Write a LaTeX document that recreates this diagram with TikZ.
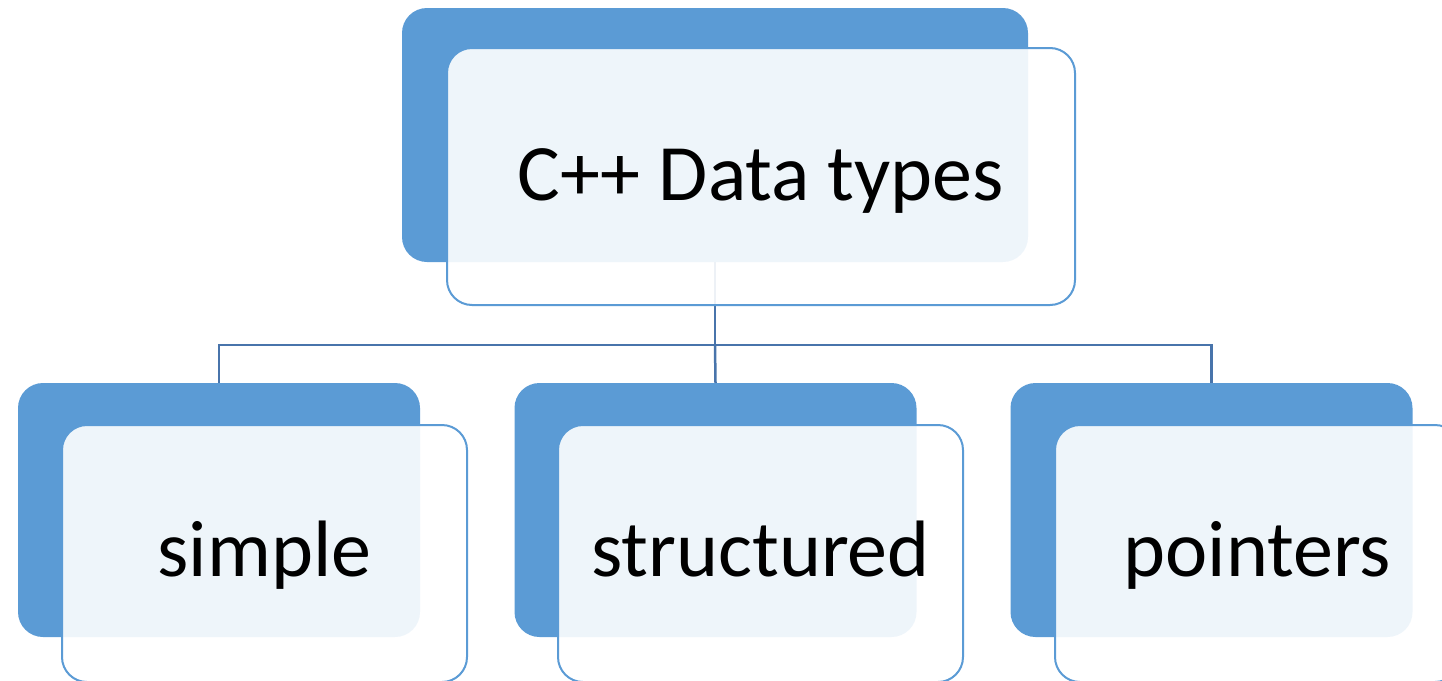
\documentclass[tikz,border=0pt]{standalone}
\usepackage{fontspec}
\setmainfont{Carlito}
\definecolor{accent}{HTML}{5B9BD5}
\definecolor{linkblue}{HTML}{4874AB}
\begin{document}
\begin{tikzpicture}[x=1pt,y=-1pt,
  backbox/.style={rectangle, rounded corners=25pt, fill=accent, draw=none,
    inner sep=0pt, minimum width=#1, minimum height=254pt},
  backbox/.default=402pt,
  frontbox/.style={rectangle, rounded corners=25pt, fill=white, fill opacity=0.9,
    draw=accent, draw opacity=1, line width=2pt,
    inner sep=0pt, minimum width=#1, minimum height=257pt},
  frontbox/.default=405pt,
  lbl/.style={anchor=base, inner sep=0pt, font=\fontsize{80}{92}\selectfont, text=black},
  link/.style={draw=linkblue, line width=2.5pt}]
\useasboundingbox (0,0) rectangle (1442,680);

% back panels
\node[backbox=626pt] (topback) at (715,135) {};
\node[backbox] (lback) at (219,510) {};
\node[backbox] (mback) at (715.5,510) {};
\node[backbox] (rback) at (1211.5,510) {};

% tree connectors
\coordinate (bus) at (0,345);
\draw[link] (topback.south) -- (topback.south |- bus);
\draw[link] (topback.south |- bus) -| (lback.north);
\draw[link] (topback.south |- bus) -| (rback.north);
\draw[link] (topback.south |- bus) -- (mback.north);

% front panels
\node[frontbox=628pt] (topfront) at (761,176.5) {};
\node[frontbox] (lfront) at (264.5,553.5) {};
\node[frontbox] (mfront) at (760.5,553.5) {};
\node[frontbox] (rfront) at (1257.5,553.5) {};

% labels
\node[lbl] (toptext) at (761,200) {C++ Data types};
\node[lbl] (ltext) at (264.5,576) {simple};
\node[lbl] (mtext) at (760.5,576) {structured};
\node[lbl] (rtext) at (1257.5,576) {pointers};
\end{tikzpicture}
\end{document}
